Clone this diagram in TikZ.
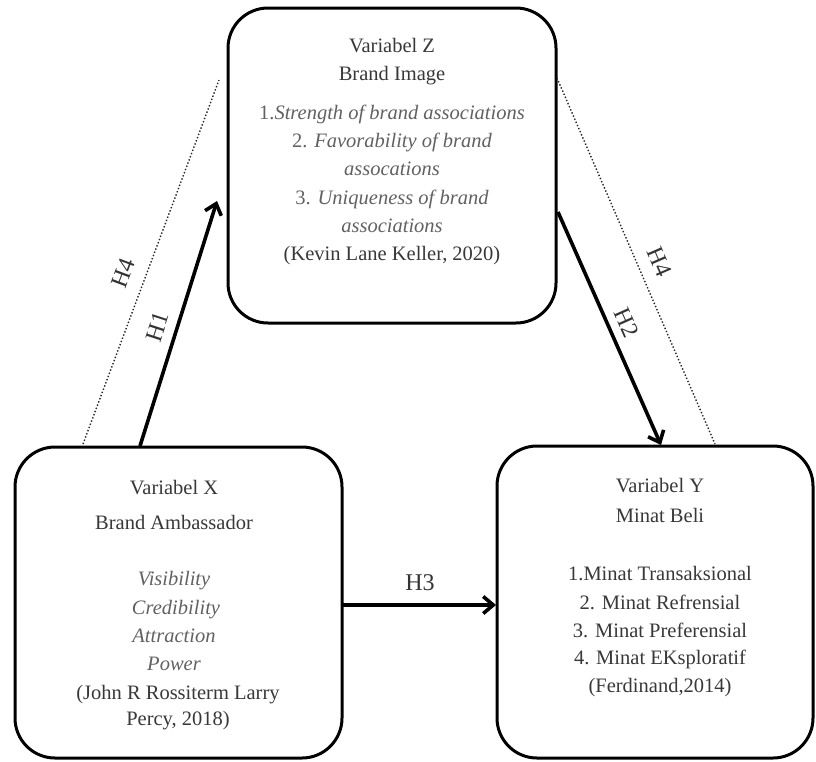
\documentclass[tikz,border=0pt]{standalone}
\usepackage{fontspec}
\setmainfont{Liberation Serif}
\usetikzlibrary{arrows.meta,calc}
\begin{document}
\begin{tikzpicture}[x=1pt,y=-1pt,
  box/.style={draw=black,line width=3pt,rounded corners=40pt,inner sep=0pt},
  txt/.style={anchor=mid,inner sep=0pt,text=black!78,font=\fontsize{20.5}{24}\selectfont},
  itx/.style={txt,text=black!62,font=\fontsize{20.5}{24}\selectfont\itshape},
  lbl/.style={inner sep=0pt,text=black!80,font=\fontsize{24}{28}\selectfont},
  arr/.style={line width=3.6pt,-{Straight Barb[length=10pt,width=17pt,line width=3.6pt]}},
  dot/.style={line width=1.4pt,dotted,black!85}]
\useasboundingbox (0,0) rectangle (816,761);
\fill[white] (0,0) rectangle (816,761);
% boxes
\node[box,minimum width=328pt,minimum height=315pt] (Z) at (392,165.5) {};
\node[box,minimum width=327pt,minimum height=311pt] (X) at (178.5,602.5) {};
\node[box,minimum width=316pt,minimum height=312pt] (Y) at (655,602) {};
% Z text
\node[txt] (z1) at (392,50) {Variabel Z};
\node[txt] (z2) at (392,78) {Brand Image};
\node[itx] (z3) at (392,117) {\upshape 1.\itshape Strength of brand associations};
\node[itx] (z4) at (392,145) {\upshape 2. \itshape Favorability of brand};
\node[itx] (z5) at (392,173) {assocations};
\node[itx] (z6) at (392,202) {\upshape 3. \itshape Uniqueness of brand};
\node[itx] (z7) at (392,230) {associations};
\node[txt] (z8) at (392,258) {(Kevin Lane Keller, 2020)};
% X text
\node[txt] (x1) at (174,492) {Variabel X};
\node[txt] (x2) at (174,527) {Brand Ambassador};
\node[itx] (x3) at (174,583) {Visibility};
\node[itx] (x4) at (176,612) {Credibility};
\node[itx] (x5) at (174,640) {Attraction};
\node[itx] (x6) at (174,668) {Power};
\node[txt] (x7) at (178,697) {(John R Rossiterm Larry};
\node[txt] (x8) at (178,723) {Percy, 2018)};
% Y text
\node[txt] (y1) at (660,490) {Variabel Y};
\node[txt] (y2) at (660,520) {Minat Beli};
\node[txt] (y3) at (660,578) {1.Minat Transaksional};
\node[txt] (y4) at (660,607) {2. Minat Refrensial};
\node[txt] (y5) at (660,635) {3. Minat Preferensial};
\node[txt] (y6) at (660,662) {4. Minat EKsploratif};
\node[txt] (y7) at (660,690) {(Ferdinand,2014)};
% connector end points
\coordinate (h1s) at (140,446);
\coordinate (h1e) at (217,201);
\coordinate (h2s) at (558,212);
\coordinate (h2e) at (661,445);
\coordinate (h3s) at (342,605);
\coordinate (h3e) at (496,605);
\coordinate (h4as) at (83,444);
\coordinate (h4ae) at (219,80);
\coordinate (h4bs) at (557,78);
\coordinate (h4be) at (715,444);
% connectors
\draw[dot] (h4as) -- (h4ae);
\draw[dot] (h4bs) -- (h4be);
\draw[arr] (h1s) -- (h1e);
\draw[arr] (h2s) -- (h2e);
\draw[arr] (h3s) -- (h3e);
% labels
\node[lbl,rotate=69.5] (l4a) at (123,273) {H4};
\node[lbl,rotate=72] (l1) at (157,327) {H1};
\node[lbl,rotate=-66] (l2) at (627,323) {H2};
\node[lbl,rotate=-66.5] (l4b) at (660,262) {H4};
\node[lbl] (l3) at (420,583) {H3};
\end{tikzpicture}
\end{document}
